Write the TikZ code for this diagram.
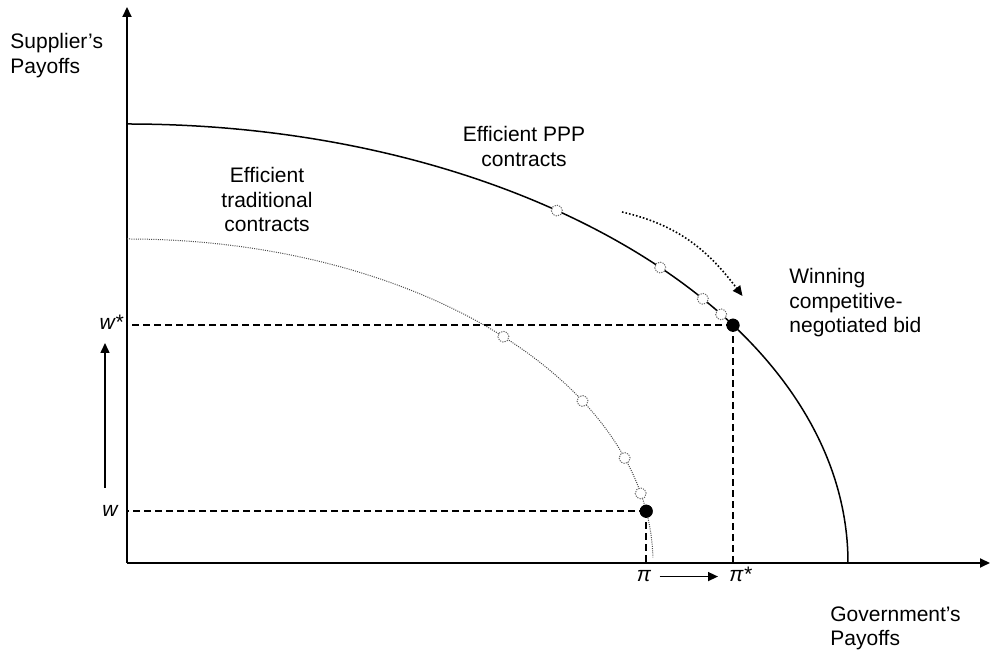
\documentclass[tikz,border=0pt]{standalone}
\usepackage{fontspec}
\setmainfont{Liberation Sans}
\usetikzlibrary{arrows.meta}

\begin{document}
\begin{tikzpicture}[x=0.5pt, y=0.5pt,
	txt/.style={font=\fontsize{10.5pt}{12.3pt}\selectfont, inner sep=0pt},
	achse/.style={line width=1pt, -{Triangle[length=5pt, width=4.5pt]}},
	pfeil/.style={line width=0.75pt, -{Triangle[length=5pt, width=4.5pt]}},
	bogen/.style={line width=0.8pt, dash pattern=on 0.8pt off 1pt, -{Triangle[length=5pt, width=4.5pt]}},
	kurve/.style={line width=0.75pt},
	tradkurve/.style={line width=0.5pt, black!70, dash pattern=on 0.5pt off 0.6pt},
	hilfs/.style={line width=0.75pt, dash pattern=on 3.5pt off 2pt},
	leer/.style={circle, draw=black!60, fill=white, dash pattern=on 0.6pt off 0.6pt, line width=0.5pt,
	             minimum size=5.5pt, inner sep=0pt},
	voll/.style={circle, fill=black, minimum size=6.5pt, inner sep=0pt}
	]
\useasboundingbox (-127,-95) rectangle (865,563);
\coordinate (o) at (0,0);
\coordinate (ytip) at (0,556);
\coordinate (xtip) at (863,0);
\draw[achse] (o) -- (ytip);
\draw[achse] (o) -- (xtip);

% frontiers
\draw[kurve] (0,439) arc[start angle=90, end angle=0, x radius=721, y radius=439];
\draw[tradkurve] (0,324) arc[start angle=90, end angle=1, x radius=526, y radius=324];

% contracts on the frontiers
\node[voll] (pstar) at ({721*cos(32.8)},{439*sin(32.8)}) {};
\node[voll] (tdot) at ({526*cos(9.2)},{324*sin(9.2)}) {};
\draw[hilfs] (pstar.center) -- (pstar -| o);
\draw[hilfs] (pstar.center) -- (pstar |- o);
\draw[hilfs] (tdot.center) -- (tdot -| o);
\draw[hilfs] (tdot.center) -- (tdot |- o);
\node[voll] at (pstar) {};
\node[voll] at (tdot) {};
\foreach \t/\n in {53.4/p1, 42.3/p2, 37.0/p3, 34.5/p4}
  \node[leer] (\n) at ({721*cos(\t)},{439*sin(\t)}) {};
\foreach \t/\n in {44.3/t1, 30/t2, 18.9/t3, 12.4/t4}
  \node[leer] (\n) at ({526*cos(\t)},{324*sin(\t)}) {};

% axis labels
\node[txt, anchor=base east] (wstar) at (-3,233) {\textit{w*}};
\node[txt, anchor=base east] (w) at (-8,46) {\textit{w}};
\node[txt, anchor=base] (pi) at (517,-19) {\textit{π}};
\node[txt, anchor=base west] (pistar) at (602,-19) {\textit{π*}};
\coordinate (wa) at (-22,75);
\coordinate (wb) at (-22,220);
\draw[pfeil] (wa) -- (wb);
\draw[pfeil, shorten <=4pt, shorten >=5.5pt] (pi.east) -- (pi.east -| pistar.west);

\node[txt, anchor=north west, align=left] (sup) at (-117,530) {Supplier’s\\Payoffs};
\node[txt, anchor=north west, align=left] (gov) at (703,-43) {Government’s\\Payoffs};
\node[txt, anchor=north, align=center] (pppl) at (397,437) {Efficient PPP\\contracts};
\node[txt, anchor=north, align=center] (tradl) at (140,396) {Efficient\\traditional\\contracts};
\node[txt, anchor=north west, align=left] (winl) at (662,295) {Winning\\competitive-\\negotiated bid};

\coordinate (da) at (495,351);
\coordinate (db) at (615.5,267);
\draw[bogen] (da) to[out=-13, in=127] (db);
\end{tikzpicture}
\end{document}
